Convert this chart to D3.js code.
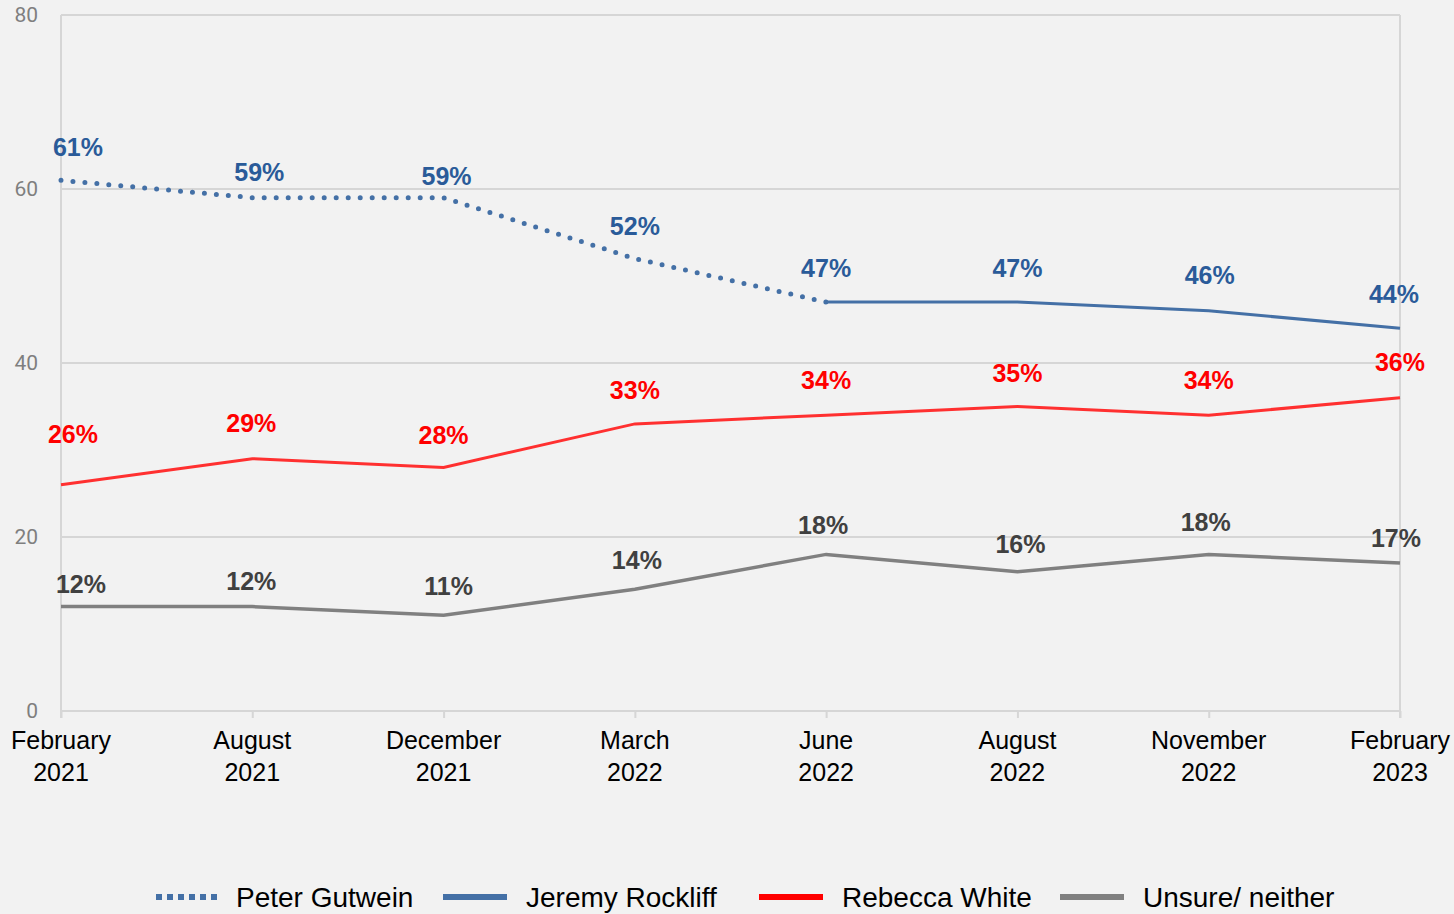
<!DOCTYPE html>
<html>
<head>
<meta charset="utf-8">
<script src="https://cdn.jsdelivr.net/npm/d3@7"></script>
<style>
  body { margin: 0; background: #f2f2f2; }
  svg { display: block; font-family: "Liberation Sans", Arial, sans-serif; }
</style>
</head>
<body>
<svg id="chart"></svg>
<script>
// survey waves
const waves = [
  ["February", "2021"], ["August", "2021"], ["December", "2021"], ["March", "2022"],
  ["June", "2022"], ["August", "2022"], ["November", "2022"], ["February", "2023"]
];

// preferred premier, % (null = not asked)
const gutwein = [61, 59, 59, 52, 47, null, null, null];
const rockliff = [null, null, null, null, 47, 47, 46, 44];
const white = [26, 29, 28, 33, 34, 35, 34, 36];
const unsure = [12, 12, 11, 14, 18, 16, 18, 17];

const yTicks = [0, 20, 40, 60, 80];

// label nudges [dx, dy] so the numbers sit where the original has them
const gutweinShift = [[17, -33], [7, -26], [3, -22], [0, -33], [0, -34]];
const rockliffShift = [[0, 0], [0, 0], [0, 0], [0, 0], [0, 0], [0, -34], [1, -36], [-6, -34]];
const whiteShift = [[12, -51], [-1, -36], [0, -32], [0, -34], [0, -35], [0, -34], [0, -35], [0, -36]];
const unsureShift = [[20, -23], [-1, -26], [5, -29], [2, -29], [-3, -29], [3, -28], [-3, -32], [-4, -25]];

const width = 1454;
const height = 914;
const mLeft = 61, mRight = 1400, mTop = 15, mBottom = 711;

const svg = d3.select("#chart")
  .attr("width", width)
  .attr("height", height);

const x = d3.scalePoint()
  .domain(d3.range(waves.length))
  .range([mLeft, mRight]);

const y = d3.scaleLinear()
  .domain([0, 80])
  .range([mBottom, mTop]);

// gridlines
svg.append("g")
  .selectAll("line")
  .data(yTicks)
  .join("line")
  .attr("x1", mLeft).attr("x2", mRight)
  .attr("y1", d => y(d)).attr("y2", d => y(d))
  .attr("stroke", "#d6d6d6")
  .attr("stroke-width", 2);

// frame sides
svg.append("line")
  .attr("x1", mLeft).attr("x2", mLeft)
  .attr("y1", mTop).attr("y2", mBottom + 7)
  .attr("stroke", "#d6d6d6").attr("stroke-width", 2);
svg.append("line")
  .attr("x1", mRight).attr("x2", mRight)
  .attr("y1", mTop).attr("y2", mBottom + 7)
  .attr("stroke", "#d6d6d6").attr("stroke-width", 2);

// y axis labels
const yAxis = d3.axisLeft(y).tickValues(yTicks).tickSize(0).tickPadding(0);
const yg = svg.append("g")
  .attr("transform", `translate(38,0)`)
  .call(yAxis);
yg.select(".domain").remove();
yg.selectAll("text")
  .attr("fill", "#7f7f7f")
  .style("font-family", "Roboto, 'Liberation Sans', sans-serif")
  .style("font-size", "21px");

// x axis
const xAxis = d3.axisBottom(x).tickSize(7).tickFormat("");
const xg = svg.append("g")
  .attr("transform", `translate(0,${mBottom})`)
  .call(xAxis);
xg.select(".domain").remove();
xg.selectAll("line").attr("stroke", "#d6d6d6").attr("stroke-width", 2);

const xl = svg.append("g")
  .selectAll("text")
  .data(waves)
  .join("text")
  .attr("x", (d, i) => x(i))
  .attr("text-anchor", "middle")
  .attr("fill", "#000")
  .style("font-size", "25px")
  .style("letter-spacing", "0px");
xl.append("tspan").attr("x", (d, i) => x(i)).attr("y", 749).text(d => d[0]);
xl.append("tspan").attr("x", (d, i) => x(i)).attr("y", 781).text(d => d[1]);

// lines
const line = d3.line()
  .defined(d => d != null)
  .x((d, i) => x(i))
  .y(d => y(d));

const series = [
  { name: "Peter Gutwein", values: gutwein, color: "#4470a6", label: "#2a5b99", dash: "0 12", width: 5, shift: gutweinShift },
  { name: "Jeremy Rockliff", values: rockliff, color: "#4470a6", label: "#2a5b99", dash: null, width: 3, shift: rockliffShift },
  { name: "Rebecca White", values: white, color: "#ff3030", label: "#ff0000", dash: null, width: 3, shift: whiteShift },
  { name: "Unsure/ neither", values: unsure, color: "#808080", label: "#404040", dash: null, width: 3.5, shift: unsureShift }
];

series.forEach(s => {
  svg.append("path")
    .datum(s.values)
    .attr("d", line)
    .attr("fill", "none")
    .attr("stroke", s.color)
    .attr("stroke-width", s.width)
    .attr("stroke-linecap", s.dash ? "round" : "butt")
    .attr("stroke-dasharray", s.dash);
});

// data labels
series.forEach(s => {
  svg.append("g")
    .selectAll("text")
    .data(s.values.map((v, i) => ({ v, i })).filter(d => d.v != null && s.shift[d.i][1] !== 0))
    .join("text")
    .attr("x", d => x(d.i) + s.shift[d.i][0])
    .attr("y", d => y(d.v) + s.shift[d.i][1] + 9)
    .attr("text-anchor", "middle")
    .attr("fill", s.label)
    .style("font-size", "25px")
    .style("font-weight", "bold")
    .style("letter-spacing", "0px")
    .text(d => d.v + "%");
});

// legend
const legendX = [153, 443, 759, 1060];
const leg = svg.append("g")
  .selectAll("g")
  .data(series)
  .join("g")
  .attr("transform", (d, i) => `translate(${legendX[i]},897)`);

leg.append("line")
  .attr("x1", d => d.dash ? 3 : 0)
  .attr("x2", 64)
  .attr("stroke", d => d.name === "Rebecca White" ? "#ff0000" : d.color)
  .attr("stroke-width", 6)
  .attr("stroke-dasharray", d => d.dash ? "6 5" : null);

leg.append("text")
  .attr("x", 83)
  .attr("y", 10)
  .attr("fill", "#000")
  .style("font-size", "28px")
  .style("letter-spacing", "0px")
  .text(d => d.name);
</script>
</body>
</html>
